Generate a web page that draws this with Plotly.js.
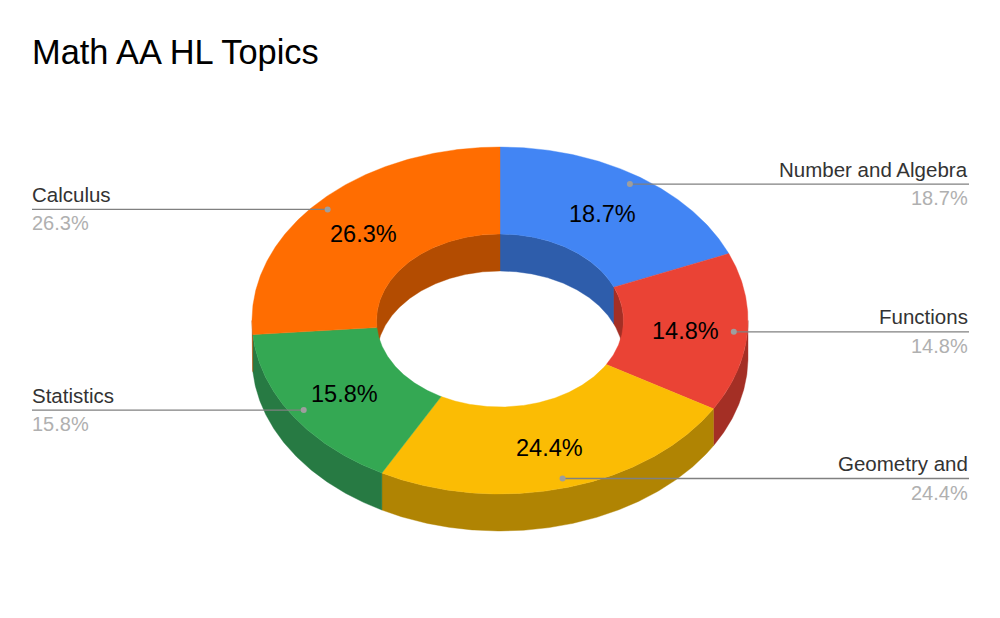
<!DOCTYPE html>
<html>
<head>
<meta charset="utf-8">
<script src="https://cdn.plot.ly/plotly-3.0.1.min.js"></script>
<style>html,body{margin:0;padding:0;background:#fff}#chart{width:1000px;height:618px}</style>
</head>
<body>
<div id="chart"></div>
<script>
const chartTitle = 'Math AA HL Topics';
const categories = ['Number and Algebra', 'Functions', 'Geometry and', 'Statistics', 'Calculus'];
const shares = [18.7, 14.8, 24.4, 15.8, 26.3];
const topColors = ['#4285f4', '#ea4335', '#fbbc04', '#34a853', '#ff6d01'];
const wallColors = ['#2e5dab', '#a42f25', '#b08403', '#277a43', '#b34c01'];

const FONT = 'Arial, "Liberation Sans", sans-serif';
const CX = 500, CY = 320.5, RX = 248, RY = 173.5, IRX = 123.5, IRY = 86.5, DEPTH = 37;
const LEFT_X = 32, RIGHT_X = 969, DOT_FACTOR = 0.945;

const px = (a, rx) => CX + rx * Math.sin(a * Math.PI / 180);
const py = (a, ry, dy) => CY - ry * Math.cos(a * Math.PI / 180) + (dy || 0);

function sweep(a0, a1) {
  const n = Math.max(2, Math.ceil(Math.abs(a1 - a0) / 0.5));
  const out = [];
  for (let i = 0; i <= n; i++) out.push(a0 + (a1 - a0) * i / n);
  return out;
}
function polygon(color, outer, inner) {
  const xs = [], ys = [];
  outer.forEach(p => { xs.push(p[0]); ys.push(p[1]); });
  inner.forEach(p => { xs.push(p[0]); ys.push(p[1]); });
  xs.push(xs[0]); ys.push(ys[0]);
  return { x: xs, y: ys, type: 'scatter', mode: 'lines', fill: 'toself', fillcolor: color,
           line: { color: color, width: 0.4 }, hoverinfo: 'skip', showlegend: false };
}
const arc = (angles, rx, ry, dy) => angles.map(a => [px(a, rx), py(a, ry, dy)]);

// slice boundaries in degrees clockwise from twelve o'clock
const total = shares.reduce((s, v) => s + v, 0);
const bounds = [];
let run = 0;
shares.forEach(v => { bounds.push([run / total * 360, (run + v) / total * 360]); run += v; });

const traces = [];

// outer wall: front half only
bounds.forEach((b, i) => {
  const s = Math.max(b[0], 90), e = Math.min(b[1], 270);
  if (e > s) {
    const ang = sweep(s, e);
    traces.push(polygon(wallColors[i], arc(ang, RX, RY, 0), arc(ang.slice().reverse(), RX, RY, DEPTH)));
  }
});
// inner wall: back half only, seen through the hole
bounds.forEach((b, i) => {
  [[-90, 90], [270, 450]].forEach(w => {
    const s = Math.max(b[0], w[0]), e = Math.min(b[1], w[1]);
    if (e > s) {
      const ang = sweep(s, e);
      traces.push(polygon(wallColors[i], arc(ang, IRX, IRY, 0), arc(ang.slice().reverse(), IRX, IRY, DEPTH)));
    }
  });
});
// top face
bounds.forEach((b, i) => {
  const ang = sweep(b[0], b[1]);
  traces.push(polygon(topColors[i], arc(ang, RX, RY, 0), arc(ang.slice().reverse(), IRX, IRY, 0)));
});

const annotations = [];
function note(x, y, text, size, color, anchor) {
  annotations.push({ x: x, y: y, xref: 'x', yref: 'y', text: text, showarrow: false,
    xanchor: anchor, yanchor: 'middle', borderpad: 0, borderwidth: 0,
    font: { family: FONT, size: size, color: color } });
}

bounds.forEach((b, i) => {
  const mid = (b[0] + b[1]) / 2;
  const pct = shares[i].toFixed(1) + '%';
  const dotX = px(mid, RX * DOT_FACTOR), dotY = py(mid, RY * DOT_FACTOR);
  const right = mid < 180;
  const endX = right ? RIGHT_X : LEFT_X;
  traces.push({ x: [dotX, endX], y: [dotY, dotY], type: 'scatter', mode: 'lines',
    line: { color: '#808080', width: 1.3 }, hoverinfo: 'skip', showlegend: false });
  traces.push({ x: [dotX], y: [dotY], type: 'scatter', mode: 'markers',
    marker: { color: '#9e9e9e', size: 6 }, hoverinfo: 'skip', showlegend: false });
  const tx = right ? RIGHT_X - 1 : LEFT_X;
  const anchor = right ? 'right' : 'left';
  note(tx, dotY - 15, categories[i], 20.5, '#333333', anchor);
  note(tx, dotY + 14, pct, 20, '#b0b0b0', anchor);
  note(px(mid, (RX + IRX) / 2), py(mid, (RY + IRY) / 2) + 2, pct, 23.5, '#000000', 'center');
});

const layout = {
  width: 1000, height: 618,
  margin: { l: 0, r: 0, t: 0, b: 0 },
  paper_bgcolor: '#ffffff', plot_bgcolor: '#ffffff',
  showlegend: false,
  title: { text: chartTitle, x: 0.032, xanchor: 'left', y: 1 - 52 / 618, yanchor: 'middle',
           font: { family: FONT, size: 34.4, color: '#000000' } },
  xaxis: { range: [0, 1000], visible: false, fixedrange: true },
  yaxis: { range: [618, 0], visible: false, fixedrange: true },
  annotations: annotations
};
Plotly.newPlot('chart', traces, layout, { displayModeBar: false, staticPlot: true });
</script>
</body>
</html>
